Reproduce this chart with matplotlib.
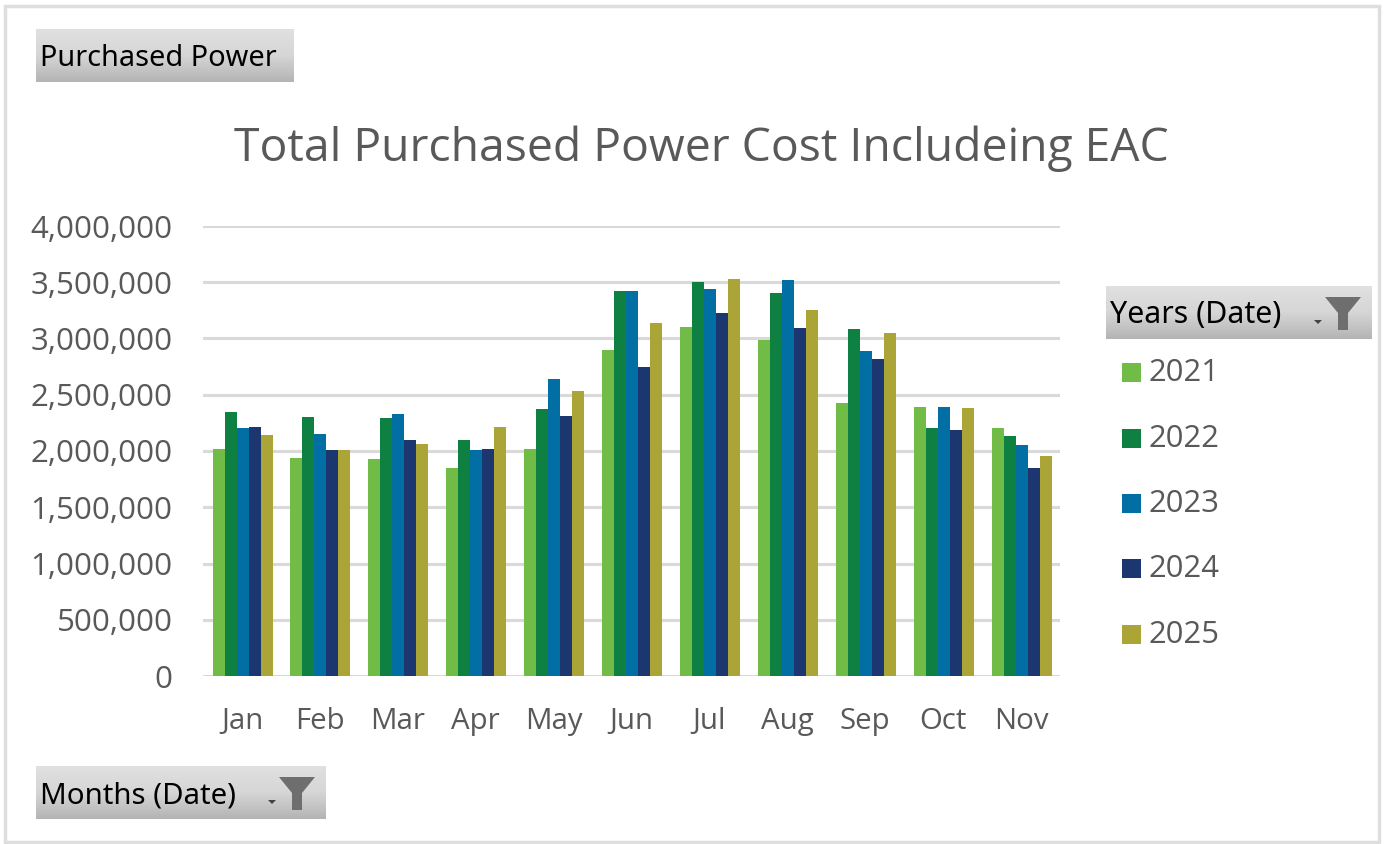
import numpy as np
import matplotlib.pyplot as plt
from matplotlib.patches import Polygon, Rectangle

W, H = 1384, 844

# Data
months = ['Jan', 'Feb', 'Mar', 'Apr', 'May', 'Jun', 'Jul', 'Aug', 'Sep', 'Oct', 'Nov']
years = ['2021', '2022', '2023', '2024', '2025']
v2021 = [2020000, 1940000, 1925000, 1850000, 2020000, 2900000, 3100000, 2990000, 2430000, 2390000, 2205000]
v2022 = [2350000, 2300000, 2290000, 2095000, 2375000, 3425000, 3505000, 3400000, 3080000, 2205000, 2130000]
v2023 = [2205000, 2150000, 2330000, 2005000, 2640000, 3425000, 3440000, 3520000, 2890000, 2390000, 2050000]
v2024 = [2215000, 2010000, 2095000, 2015000, 2310000, 2750000, 3230000, 3095000, 2815000, 2185000, 1850000]
v2025 = [2145000, 2005000, 2060000, 2215000, 2530000, 3140000, 3530000, 3250000, 3050000, 2385000, 1960000]
series = [v2021, v2022, v2023, v2024, v2025]
colors = ['#70BC47', '#0E8142', '#016FA3', '#1C3770', '#ABA537']
yticks = [0, 500000, 1000000, 1500000, 2000000, 2500000, 3000000, 3500000, 4000000]

plt.rcParams['font.family'] = ['Open Sans', 'DejaVu Sans']
grey = '#595959'

fig = plt.figure(figsize=(W / 100, H / 100), dpi=100)

# overlay in pixel coordinates for the frame and the pivot buttons
bg = fig.add_axes([0, 0, 1, 1], zorder=0)
bg.set_xlim(0, W)
bg.set_ylim(H, 0)
bg.axis('off')
bg.add_patch(Rectangle((5, 6), 1374, 836, fc='white', ec='#DEDEDE', lw=2.5))

grad = np.linspace(0, 1, 64).reshape(-1, 1)


def button(x0, y0, x1, y1, label, size=21.5, funnel=False):
    bg.imshow(grad, extent=(x0, x1, y1, y0), cmap=plt.cm.colors.LinearSegmentedColormap.from_list(
        'btn', ['#E0E0E0', '#D6D6D6', '#B4B4B4']), aspect='auto', zorder=2)
    bg.text(x0 + 4, (y0 + y1) / 2 + 3, label, fontsize=size, color='black', ha='left', va='center',
            family=['Noto Sans', 'DejaVu Sans'], zorder=3)
    if funnel:
        fx = x1 - 29
        bg.add_patch(Polygon([(fx - 18, y0 + 11), (fx + 18, y0 + 11), (fx + 5, y0 + 27), (fx + 5, y0 + 44),
                              (fx - 5, y0 + 44), (fx - 5, y0 + 27)], fc='#6E6E6E', ec='none', zorder=3))
        bg.add_patch(Polygon([(fx - 29, y0 + 34), (fx - 21, y0 + 34), (fx - 25, y0 + 38)],
                             fc='#444444', ec='none', zorder=3))


button(36, 29, 294, 82, 'Purchased Power', size=20.8)
button(1106, 286, 1372, 339, 'Years (Date)', size=21.8, funnel=True)
button(36, 766, 326, 819, 'Months (Date)', size=21.2, funnel=True)
bg.set_xlim(0, W)
bg.set_ylim(H, 0)

# main chart
ax = fig.add_axes([203 / W, 1 - 676 / H, 857 / W, 450 / H], zorder=1)
ax.patch.set_alpha(0)
x = np.arange(len(months))
bw = 0.154
for i, vals in enumerate(series):
    ax.bar(x + (i - 2) * bw + 0.008, vals, width=bw, color=colors[i], label=years[i], zorder=3)

ax.set_xlim(-0.5, len(months) - 0.5)
ax.set_ylim(0, 4000000)
ax.set_yticks(yticks)
ax.set_yticklabels([f'{t:,}' for t in yticks], fontsize=22.5, color=grey)
ax.set_xticks(x)
ax.set_xticklabels(months, fontsize=21.2, color=grey)
ax.tick_params(length=0)
ax.tick_params(axis='x', pad=22)
ax.tick_params(axis='y', pad=22)
ax.grid(axis='y', color='#D9D9D9', lw=2.2, zorder=0)
ax.set_axisbelow(True)
for s in ax.spines.values():
    s.set_visible(False)

fig.text(701 / W, 1 - 149 / H, 'Total Purchased Power Cost Includeing EAC', fontsize=33.3, color=grey,
         ha='center', va='center')

# legend by hand, placed under the Years button
legend_y = [372, 438, 503, 568, 634]
for lab, col, ly in zip(years, colors, legend_y):
    bg.add_patch(Rectangle((1122, ly - 9), 19, 19, fc=col, ec='none'))
    bg.text(1149, ly + 1, lab, fontsize=22.3, color=grey, ha='left', va='center')

fig.savefig('out.png', dpi=100)
